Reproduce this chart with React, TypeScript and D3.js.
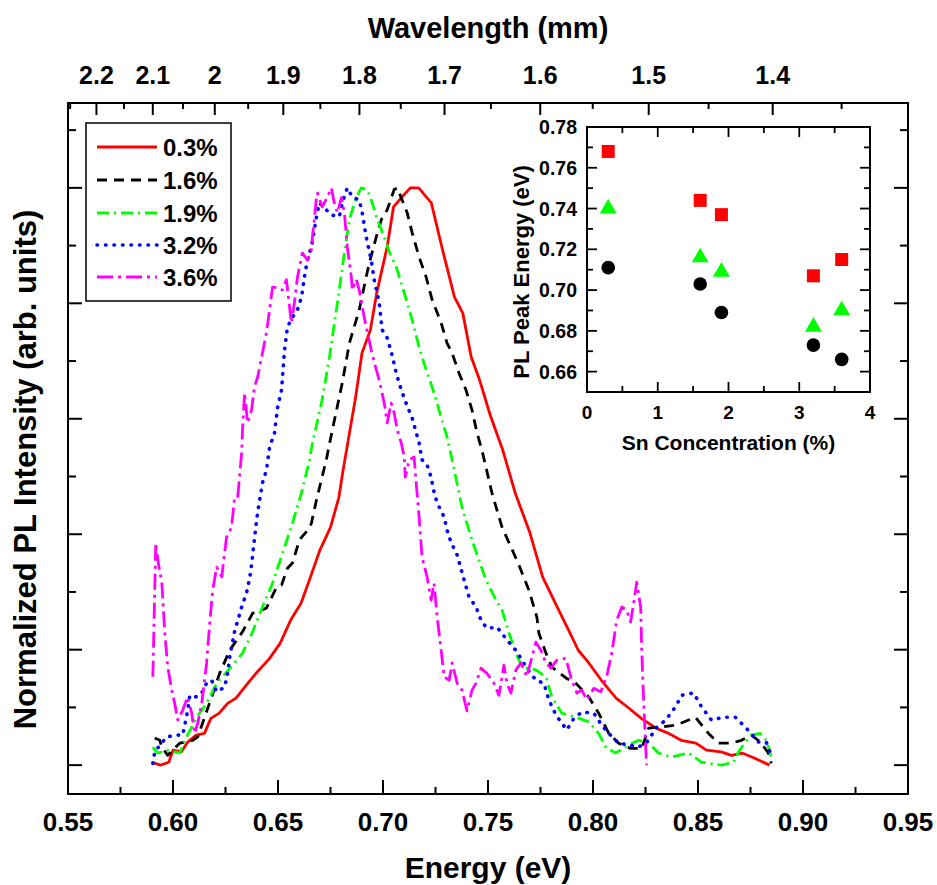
import React from "react";
import * as d3 from "d3";

// ---------- axis ticks ----------
const energyTicks = [0.55, 0.6, 0.65, 0.7, 0.75, 0.8, 0.85, 0.9, 0.95];
const energyTickLabels = ["0.55", "0.60", "0.65", "0.70", "0.75", "0.80", "0.85", "0.90", "0.95"];
const energyMinorTicks = [0.575, 0.625, 0.675, 0.725, 0.775, 0.825, 0.875, 0.925];
const intensityMajorTicks = [0, 0.2, 0.4, 0.6, 0.8, 1.0];
const intensityMinorTicks = [0.1, 0.3, 0.5, 0.7, 0.9, 1.1];
const wavelengthTicks = [2.2, 2.1, 2.0, 1.9, 1.8, 1.7, 1.6, 1.5, 1.4];
const wavelengthLabels = ["2.2", "2.1", "2", "1.9", "1.8", "1.7", "1.6", "1.5", "1.4"];
const wavelengthMinorTicks = [2.25, 2.15, 2.05, 1.95, 1.85, 1.75, 1.65, 1.55, 1.45, 1.35];
const HC = 1.2398; // eV·µm

// ---------- series ----------
const seriesNames = ["0.3%", "1.6%", "1.9%", "3.2%", "3.6%"];
const seriesColors = ["#ff0000", "#000000", "#00ff00", "#0000ff", "#ff00ff"];
const seriesDash = ["none", "10,7", "12,5,2,5", "0.5,8", "16,5,3,5"];

const pl03: [number, number][] = [
  [0.590, 0.005], [0.594, 0.0], [0.598, 0.005], [0.600, 0.026], [0.604, 0.023], [0.607, 0.04],
  [0.611, 0.052], [0.615, 0.055], [0.618, 0.081], [0.622, 0.09], [0.626, 0.107], [0.630, 0.116],
  [0.635, 0.139], [0.640, 0.161], [0.646, 0.185], [0.651, 0.211], [0.656, 0.251], [0.661, 0.281],
  [0.665, 0.321], [0.670, 0.373], [0.675, 0.412], [0.679, 0.464], [0.681, 0.511], [0.687, 0.638],
  [0.690, 0.714], [0.694, 0.754], [0.697, 0.818], [0.702, 0.898], [0.705, 0.967], [0.709, 0.984],
  [0.713, 1.0], [0.717, 1.0], [0.723, 0.974], [0.728, 0.898], [0.734, 0.811], [0.738, 0.783],
  [0.742, 0.707], [0.746, 0.667], [0.751, 0.607], [0.757, 0.546], [0.763, 0.471], [0.770, 0.402],
  [0.776, 0.326], [0.782, 0.281], [0.789, 0.229], [0.793, 0.199], [0.798, 0.177], [0.804, 0.147],
  [0.811, 0.116], [0.817, 0.099], [0.823, 0.081], [0.830, 0.064], [0.836, 0.055], [0.842, 0.043],
  [0.849, 0.038], [0.854, 0.026], [0.861, 0.023], [0.866, 0.017], [0.871, 0.021], [0.877, 0.012],
  [0.884, 0.0],
];

const pl16: [number, number][] = [
  [0.5913, 0.047], [0.5937, 0.043], [0.5947, 0.031], [0.5975, 0.017], [0.5999, 0.026], [0.6032, 0.038],
  [0.6094, 0.043], [0.6118, 0.049], [0.6141, 0.073], [0.6184, 0.118], [0.6222, 0.159], [0.627, 0.199],
  [0.6331, 0.231], [0.6379, 0.263], [0.6445, 0.272], [0.6493, 0.308], [0.6517, 0.312], [0.6545, 0.341],
  [0.6569, 0.35], [0.6602, 0.39], [0.665, 0.411], [0.6659, 0.419], [0.6683, 0.459], [0.673, 0.529],
  [0.6759, 0.581], [0.6806, 0.662], [0.684, 0.731], [0.6887, 0.789], [0.692, 0.846], [0.6935, 0.87],
  [0.6968, 0.915], [0.6992, 0.945], [0.702, 0.962], [0.7053, 0.997], [0.7068, 1.0], [0.7091, 0.979],
  [0.7115, 0.957], [0.7139, 0.922], [0.7172, 0.88], [0.7205, 0.846], [0.7234, 0.806], [0.7277, 0.766],
  [0.7305, 0.731], [0.7329, 0.714], [0.7362, 0.679], [0.7395, 0.65], [0.7424, 0.615], [0.7448, 0.575],
  [0.7471, 0.546], [0.7519, 0.471], [0.7567, 0.412], [0.7609, 0.378], [0.7647, 0.347], [0.7695, 0.303],
  [0.7733, 0.256], [0.7742, 0.229], [0.7776, 0.194], [0.7804, 0.17], [0.7871, 0.151], [0.7918, 0.142],
  [0.798, 0.118], [0.8027, 0.09], [0.8075, 0.055], [0.8122, 0.038], [0.8179, 0.029], [0.8232, 0.029],
  [0.8265, 0.064], [0.8327, 0.066], [0.8393, 0.069], [0.8488, 0.083], [0.855, 0.055], [0.8597, 0.038],
  [0.8659, 0.038], [0.8707, 0.043], [0.8754, 0.052], [0.8797, 0.04], [0.8835, 0.021], [0.8849, 0.003],
];

const pl19: [number, number][] = [
  [0.5904, 0.031], [0.5928, 0.021], [0.5951, 0.023], [0.5975, 0.026], [0.6032, 0.021], [0.6065, 0.049],
  [0.6113, 0.083], [0.616, 0.107], [0.6208, 0.142], [0.6255, 0.161], [0.6284, 0.173], [0.6331, 0.194],
  [0.6379, 0.231], [0.6426, 0.274], [0.6474, 0.315], [0.6521, 0.367], [0.6569, 0.419], [0.6616, 0.477],
  [0.665, 0.529], [0.6664, 0.558], [0.6707, 0.627], [0.6745, 0.707], [0.6783, 0.801], [0.6816, 0.887],
  [0.684, 0.945], [0.6873, 0.984], [0.6897, 1.0], [0.6925, 0.997], [0.6949, 0.974], [0.6973, 0.945],
  [0.7006, 0.915], [0.703, 0.889], [0.7063, 0.863], [0.7087, 0.835], [0.7115, 0.801], [0.7139, 0.771],
  [0.7172, 0.724], [0.7205, 0.685], [0.7234, 0.655], [0.7267, 0.615], [0.7305, 0.568], [0.7329, 0.529],
  [0.7376, 0.447], [0.7424, 0.39], [0.7457, 0.355], [0.749, 0.321], [0.7538, 0.286], [0.7567, 0.269],
  [0.76, 0.229], [0.7633, 0.194], [0.7662, 0.17], [0.7728, 0.165], [0.7776, 0.153], [0.7804, 0.118],
  [0.7852, 0.09], [0.7918, 0.083], [0.798, 0.075], [0.8027, 0.055], [0.8061, 0.031], [0.8108, 0.021],
  [0.817, 0.035], [0.8217, 0.043], [0.8265, 0.038], [0.8312, 0.021], [0.8374, 0.014], [0.8455, 0.021],
  [0.8517, 0.005], [0.8612, 0.0], [0.8669, 0.005], [0.8693, 0.023], [0.8726, 0.04], [0.8754, 0.052],
  [0.8797, 0.055], [0.8825, 0.043], [0.8844, 0.021], [0.8849, 0.009],
];

const pl32: [number, number][] = [
  [0.5904, 0.003], [0.5913, 0.023], [0.597, 0.049], [0.6018, 0.052], [0.6046, 0.052], [0.6056, 0.069],
  [0.607, 0.095], [0.608, 0.121], [0.6113, 0.118], [0.6137, 0.125], [0.616, 0.142], [0.6184, 0.147],
  [0.6208, 0.127], [0.6246, 0.135], [0.626, 0.159], [0.627, 0.187], [0.6293, 0.231], [0.6327, 0.274],
  [0.635, 0.298], [0.6365, 0.324], [0.6374, 0.347], [0.6388, 0.393], [0.6403, 0.438], [0.6426, 0.489],
  [0.6445, 0.511], [0.646, 0.551], [0.6483, 0.575], [0.6498, 0.619], [0.6517, 0.65], [0.6531, 0.719],
  [0.6545, 0.759], [0.6569, 0.776], [0.6593, 0.789], [0.6612, 0.811], [0.6626, 0.846], [0.664, 0.875],
  [0.6659, 0.898], [0.6673, 0.927], [0.6683, 0.95], [0.6697, 0.974], [0.673, 0.962], [0.6754, 0.953],
  [0.6792, 0.95], [0.6806, 0.974], [0.683, 1.0], [0.6854, 0.984], [0.6887, 0.979], [0.6901, 0.957],
  [0.692, 0.915], [0.6944, 0.875], [0.6958, 0.841], [0.6982, 0.801], [0.6996, 0.754], [0.702, 0.74],
  [0.7039, 0.716], [0.7063, 0.679], [0.7087, 0.65], [0.711, 0.627], [0.7139, 0.601], [0.7172, 0.558],
  [0.7186, 0.529], [0.721, 0.52], [0.7229, 0.499], [0.7243, 0.473], [0.7258, 0.454], [0.7291, 0.43],
  [0.7305, 0.407], [0.7324, 0.386], [0.7353, 0.364], [0.7386, 0.321], [0.741, 0.291], [0.7443, 0.274],
  [0.7467, 0.251], [0.7495, 0.237], [0.7543, 0.239], [0.759, 0.217], [0.7633, 0.199], [0.7681, 0.17],
  [0.7728, 0.147], [0.7766, 0.142], [0.779, 0.113], [0.7823, 0.087], [0.7875, 0.061], [0.7909, 0.081],
  [0.7947, 0.092], [0.8004, 0.09], [0.8042, 0.069], [0.8075, 0.055], [0.8122, 0.038], [0.817, 0.035],
  [0.8217, 0.031], [0.8265, 0.043], [0.8298, 0.064], [0.8346, 0.078], [0.8393, 0.101], [0.8422, 0.121],
  [0.8479, 0.125], [0.8517, 0.101], [0.8564, 0.078], [0.8621, 0.083], [0.8678, 0.083], [0.873, 0.064],
  [0.8787, 0.04], [0.8825, 0.04], [0.8849, 0.017],
];

const pl36: [number, number][] = [
  [0.5904, 0.153], [0.5918, 0.385], [0.5928, 0.355], [0.5947, 0.315], [0.5961, 0.229], [0.5975, 0.17],
  [0.5994, 0.13], [0.6008, 0.107], [0.6023, 0.078], [0.6046, 0.095], [0.607, 0.118], [0.6089, 0.09],
  [0.6103, 0.055], [0.6118, 0.073], [0.6137, 0.107], [0.616, 0.177], [0.6175, 0.246], [0.6189, 0.303],
  [0.6208, 0.343], [0.6232, 0.326], [0.6255, 0.395], [0.6279, 0.412], [0.6293, 0.463], [0.6308, 0.464],
  [0.6327, 0.541], [0.6331, 0.581], [0.6341, 0.645], [0.6355, 0.593], [0.6374, 0.615], [0.6388, 0.655],
  [0.6403, 0.672], [0.6426, 0.714], [0.6445, 0.749], [0.646, 0.789], [0.6474, 0.828], [0.6498, 0.827],
  [0.6521, 0.823], [0.654, 0.841], [0.6555, 0.794], [0.6564, 0.766], [0.6578, 0.801], [0.6593, 0.846],
  [0.6616, 0.887], [0.664, 0.875], [0.6659, 0.893], [0.6664, 0.915], [0.6673, 0.945], [0.6683, 0.984],
  [0.6688, 0.991], [0.6711, 0.967], [0.6735, 0.984], [0.6754, 1.0], [0.6768, 0.974], [0.6783, 0.957],
  [0.6802, 0.983], [0.6816, 0.957], [0.683, 0.898], [0.6849, 0.846], [0.6854, 0.823], [0.6873, 0.841],
  [0.6887, 0.823], [0.6901, 0.794], [0.692, 0.759], [0.6944, 0.719], [0.6968, 0.685], [0.6982, 0.667],
  [0.7006, 0.627], [0.702, 0.593], [0.7039, 0.627], [0.7053, 0.61], [0.7068, 0.581], [0.7087, 0.558],
  [0.7101, 0.534], [0.7106, 0.499], [0.7125, 0.529], [0.7148, 0.534], [0.7158, 0.489], [0.7172, 0.43],
  [0.7186, 0.36], [0.721, 0.326], [0.7229, 0.286], [0.7243, 0.315], [0.7258, 0.256], [0.7277, 0.199],
  [0.7291, 0.153], [0.7315, 0.147], [0.7329, 0.177], [0.7353, 0.142], [0.7376, 0.13], [0.74, 0.094],
  [0.7424, 0.13], [0.7443, 0.142], [0.7467, 0.168], [0.7495, 0.159], [0.7528, 0.142], [0.7552, 0.121],
  [0.7576, 0.173], [0.759, 0.142], [0.7609, 0.125], [0.7633, 0.165], [0.7657, 0.177], [0.7685, 0.153],
  [0.7709, 0.187], [0.7728, 0.213], [0.7752, 0.199], [0.7776, 0.177], [0.7799, 0.168], [0.7828, 0.182],
  [0.7871, 0.185], [0.7894, 0.153], [0.7923, 0.125], [0.7947, 0.13], [0.797, 0.113], [0.8004, 0.133],
  [0.8037, 0.127], [0.8065, 0.153], [0.8089, 0.194], [0.8113, 0.251], [0.8137, 0.274], [0.816, 0.269],
  [0.8179, 0.248], [0.8194, 0.281], [0.8208, 0.317], [0.8227, 0.274], [0.8232, 0.199], [0.8241, 0.113],
  [0.8255, 0.0],
];

const allSeries = [pl03, pl16, pl19, pl32, pl36];

// ---------- inset ----------
const snConc = [0.3, 1.6, 1.9, 3.2, 3.6];
const peakHigh = [0.768, 0.744, 0.737, 0.707, 0.715];
const peakMid = [0.740, 0.716, 0.709, 0.682, 0.690];
const peakLow = [0.711, 0.703, 0.689, 0.673, 0.666];
const insetYTicks = [0.66, 0.68, 0.70, 0.72, 0.74, 0.76, 0.78];
const insetYMinor = [0.67, 0.69, 0.71, 0.73, 0.75, 0.77];
const insetXTicks = [0, 1, 2, 3, 4];
const insetXMinor = [0.5, 1.5, 2.5, 3.5];

const FONT = "'Liberation Sans', Arial, Helvetica, sans-serif";

export default function App() {
  const W = 937, H = 885;
  const L = 68, R = 908, T = 103, B = 794;
  const x = d3.scaleLinear().domain([0.55, 0.95]).range([L, R]);
  const y = d3.scaleLinear().domain([-0.05, 1.147]).range([B, T]);

  const line = d3.line<[number, number]>().x((d) => x(d[0])).y((d) => y(d[1]));

  // inset scales
  const iL = 587, iR = 870, iT = 127, iB = 392;
  const ix = d3.scaleLinear().domain([0, 4]).range([iL, iR]);
  const iy = d3.scaleLinear().domain([0.65, 0.78]).range([iB, iT]);
  const tri = d3.symbol().type(d3.symbolTriangle).size(125)();

  const stroke = "#000";
  const legendRows = [147, 180, 213, 245, 277];
  const sw = (i: number) => (i === 3 ? 3.6 : 2.8);

  return (
    <svg width={W} height={H} style={{ position: "absolute", left: 0, top: 0, background: "#fff" }} fontFamily={FONT} fontWeight="bold">
      <rect x={0} y={0} width={W} height={H} fill="#fff" />

      {/* curves */}
      <g fill="none" strokeLinejoin="round">
        {allSeries.map((s, i) => (
          <path key={i} d={line(s) || ""} stroke={seriesColors[i]} strokeWidth={sw(i)}
            strokeDasharray={seriesDash[i] === "none" ? undefined : seriesDash[i]}
            strokeLinecap={i === 3 ? "round" : "butt"} />
        ))}
      </g>

      {/* frame */}
      <rect x={L} y={T} width={R - L} height={B - T} fill="none" stroke={stroke} strokeWidth={2} />

      {/* bottom axis */}
      {energyTicks.map((t, i) => (
        <g key={"eb" + i}>
          <line x1={x(t)} x2={x(t)} y1={B} y2={B - 14} stroke={stroke} strokeWidth={2} />
          <text x={x(t)} y={831} fontSize={26} textAnchor="middle">{energyTickLabels[i]}</text>
        </g>
      ))}
      {energyMinorTicks.map((t, i) => (
        <line key={"em" + i} x1={x(t)} x2={x(t)} y1={B} y2={B - 7} stroke={stroke} strokeWidth={2} />
      ))}
      <text x={(L + R) / 2} y={878} fontSize={30} textAnchor="middle">Energy (eV)</text>

      {/* top wavelength axis */}
      {wavelengthTicks.map((w, i) => (
        <g key={"wt" + i}>
          <line x1={x(HC / w)} x2={x(HC / w)} y1={T} y2={T + 12} stroke={stroke} strokeWidth={2} />
          <text x={x(HC / w)} y={84} fontSize={25} textAnchor="middle">{wavelengthLabels[i]}</text>
        </g>
      ))}
      {wavelengthMinorTicks.map((w, i) => (
        <line key={"wm" + i} x1={x(HC / w)} x2={x(HC / w)} y1={T} y2={T + 6} stroke={stroke} strokeWidth={2} />
      ))}
      <text x={(L + R) / 2} y={38} fontSize={29} textAnchor="middle">Wavelength (mm)</text>

      {/* left & right axes */}
      {intensityMajorTicks.map((t, i) => (
        <g key={"im" + i}>
          <line x1={L} x2={L + 14} y1={y(t)} y2={y(t)} stroke={stroke} strokeWidth={2} />
          <line x1={R} x2={R - 14} y1={y(t)} y2={y(t)} stroke={stroke} strokeWidth={2} />
        </g>
      ))}
      {intensityMinorTicks.map((t, i) => (
        <g key={"in" + i}>
          <line x1={L} x2={L + 8} y1={y(t)} y2={y(t)} stroke={stroke} strokeWidth={2} />
          <line x1={R} x2={R - 8} y1={y(t)} y2={y(t)} stroke={stroke} strokeWidth={2} />
        </g>
      ))}
      <text transform={`translate(36,469.5) rotate(-90)`} fontSize={31} textAnchor="middle">
        Normalized PL Intensity (arb. units)
      </text>

      {/* legend */}
      <rect x={86} y={123} width={145} height={178} fill="#fff" stroke={stroke} strokeWidth={1.5} />
      {seriesNames.map((n, i) => (
        <g key={"lg" + i}>
          <line x1={97} x2={157} y1={legendRows[i]} y2={legendRows[i]} stroke={seriesColors[i]}
            strokeWidth={sw(i)}
            strokeDasharray={seriesDash[i] === "none" ? undefined : seriesDash[i]}
            strokeLinecap={i === 3 ? "round" : "butt"} />
          <text x={163} y={legendRows[i] + 8.6} fontSize={24}>{n}</text>
        </g>
      ))}

      {/* inset */}
      <rect x={iL} y={iT} width={iR - iL} height={iB - iT} fill="#fff" stroke={stroke} strokeWidth={2} />
      {insetXTicks.map((t, i) => (
        <g key={"ix" + i}>
          <line x1={ix(t)} x2={ix(t)} y1={iB} y2={iB - 10} stroke={stroke} strokeWidth={1.8} />
          <line x1={ix(t)} x2={ix(t)} y1={iT} y2={iT + 10} stroke={stroke} strokeWidth={1.8} />
          <text x={ix(t)} y={419} fontSize={19} textAnchor="middle">{String(t)}</text>
        </g>
      ))}
      {insetXMinor.map((t, i) => (
        <g key={"ixm" + i}>
          <line x1={ix(t)} x2={ix(t)} y1={iB} y2={iB - 6} stroke={stroke} strokeWidth={1.8} />
          <line x1={ix(t)} x2={ix(t)} y1={iT} y2={iT + 6} stroke={stroke} strokeWidth={1.8} />
        </g>
      ))}
      {insetYTicks.map((t, i) => (
        <g key={"iy" + i}>
          <line x1={iL} x2={iL + 10} y1={iy(t)} y2={iy(t)} stroke={stroke} strokeWidth={1.8} />
          <line x1={iR} x2={iR - 10} y1={iy(t)} y2={iy(t)} stroke={stroke} strokeWidth={1.8} />
          <text x={577} y={iy(t) + 7} fontSize={19.5} textAnchor="end">{t.toFixed(2)}</text>
        </g>
      ))}
      {insetYMinor.map((t, i) => (
        <g key={"iym" + i}>
          <line x1={iL} x2={iL + 6} y1={iy(t)} y2={iy(t)} stroke={stroke} strokeWidth={1.8} />
          <line x1={iR} x2={iR - 6} y1={iy(t)} y2={iy(t)} stroke={stroke} strokeWidth={1.8} />
        </g>
      ))}
      <text x={(iL + iR) / 2} y={450} fontSize={21} textAnchor="middle">Sn Concentration (%)</text>
      <text transform={`translate(529,272) rotate(-90)`} fontSize={22} textAnchor="middle">PL Peak Energy (eV)</text>

      {snConc.map((c, i) => (
        <rect key={"sq" + i} x={ix(c) - 6.5} y={iy(peakHigh[i]) - 6.5} width={13} height={13} fill="#ff0000" />
      ))}
      {snConc.map((c, i) => (
        <path key={"tr" + i} d={tri || ""} transform={`translate(${ix(c)},${iy(peakMid[i])})`} fill="#00ff00" />
      ))}
      {snConc.map((c, i) => (
        <circle key={"ci" + i} cx={ix(c)} cy={iy(peakLow[i])} r={6.8} fill="#000" />
      ))}
    </svg>
  );
}
